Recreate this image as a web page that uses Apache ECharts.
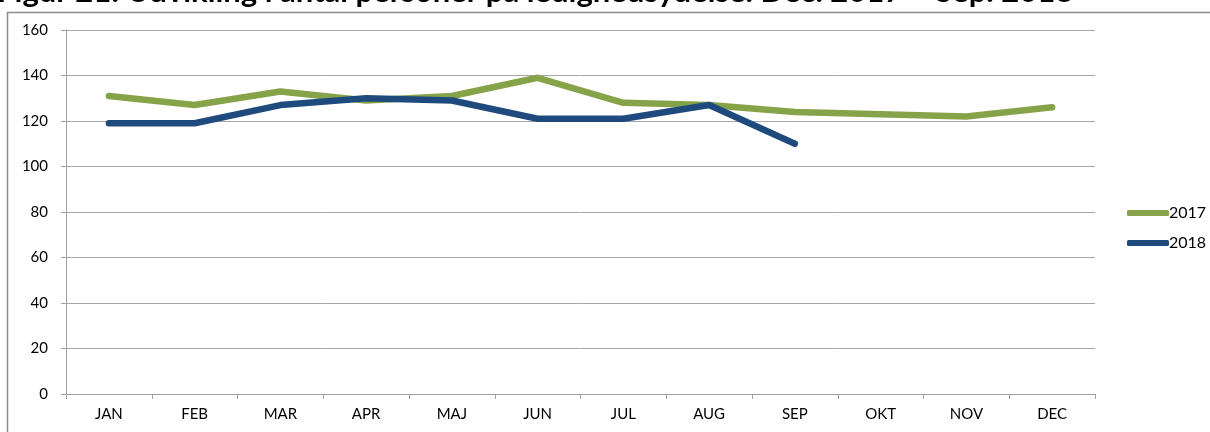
<!DOCTYPE html>
<html><head><meta charset="utf-8">
<script src="https://cdn.jsdelivr.net/npm/echarts@6/dist/echarts.min.js"></script>
<style>html,body{margin:0;padding:0;background:#fff}#c{width:1210px;height:432px}</style>
</head><body><div id="c"></div>
<script>
var titleText = 'Figur 21: Udvikling i antal personer på ledighedsydelse. Dec. 2017 – Sep. 2018';
var months = ['JAN','FEB','MAR','APR','MAJ','JUN','JUL','AUG','SEP','OKT','NOV','DEC'];
var s2017 = [131,127,133,129,131,139,128,127,124,123,122,126];
var s2018 = [119,119,127,130,129,121,121,127,110];
var yTicks = [0,20,40,60,80,100,120,140,160];

var chart = echarts.init(document.getElementById('c'));
chart.setOption({
  animation:false,
  textStyle:{fontFamily:'Lato, sans-serif'},
  graphic:[
    {type:'rect',shape:{x:7.5,y:12.5,width:1220,height:440},style:{fill:'none',stroke:'#8c8c8c',lineWidth:1.5},silent:true},
    {type:'text',x:-3,y:7,style:{text:titleText,fill:'#000',font:'bold 31px Lato, sans-serif',textVerticalAlign:'bottom'}}
  ],
  legend:{
    orient:'vertical',left:1122,top:200,itemGap:14,itemWidth:42,itemHeight:6,
    icon:'roundRect',
    textStyle:{fontSize:16,color:'#000',padding:[0,0,0,-5]},
    data:['2017','2018']
  },
  grid:{left:66,right:115,top:30,bottom:38},
  xAxis:{
    type:'category',data:months,boundaryGap:true,
    axisLine:{lineStyle:{color:'#a0a0a0'}},
    axisTick:{show:true,alignWithLabel:false,length:5,lineStyle:{color:'#a0a0a0'}},
    axisLabel:{color:'#000',fontSize:15,margin:13}
  },
  yAxis:{
    type:'value',min:yTicks[0],max:yTicks[yTicks.length-1],interval:20,
    axisLine:{show:true,lineStyle:{color:'#a0a0a0'}},
    axisTick:{show:true,length:5,lineStyle:{color:'#a0a0a0'}},
    splitLine:{lineStyle:{color:'#a6a6a6'}},
    axisLabel:{color:'#000',fontSize:15,margin:18}
  },
  series:[
    {name:'2017',type:'line',data:s2017,symbol:'none',color:'#86A34A',lineStyle:{width:6.5,cap:'round',join:'round'}},
    {name:'2018',type:'line',data:s2018,symbol:'none',color:'#1F4A7D',lineStyle:{width:6.5,cap:'round',join:'round'}}
  ]
});
</script></body></html>
